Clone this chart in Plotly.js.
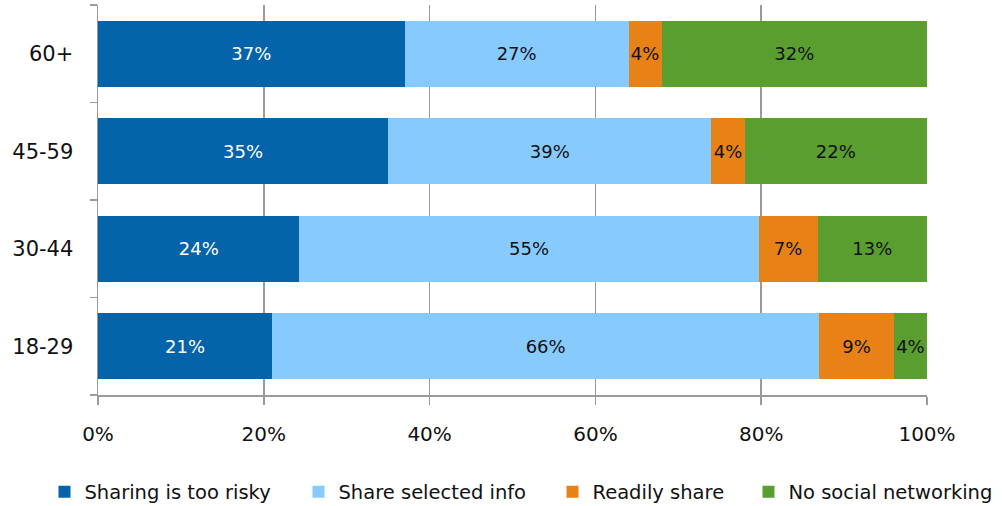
<!DOCTYPE html>
<html>
<head>
<meta charset="utf-8">
<script src="https://cdn.plot.ly/plotly-3.0.1.min.js"></script>
<style>html,body{margin:0;padding:0;background:#fff;}#chart{width:1002px;height:506px;}</style>
</head>
<body>
<div id="chart"></div>
<script>
const ageGroups = ["18-29", "30-44", "45-59", "60+"];
const seriesNames = ["Sharing is too risky", "Share selected info", "Readily share", "No social networking"];
const tooRisky = [21, 24.3, 35, 37];
const selectedInfo = [66, 55.4, 39, 27];
const readilyShare = [9, 7.1, 4, 4];
const noSocial = [4, 13.2, 22, 32];
const xTickVals = [0, 20, 40, 60, 80, 100];
const xTickText = ["0%", "20%", "40%", "60%", "80%", "100%"];

const colors = ["#0563A9", "#87CAFE", "#E88217", "#599E2F"];
const textColors = ["#ffffff", "#111111", "#111111", "#111111"];
const seriesValues = [tooRisky, selectedInfo, readilyShare, noSocial];
const FONT = "'DejaVu Sans', 'Noto Sans', sans-serif";
const legendIds = ["legend", "legend2", "legend3", "legend4"];
const legendX = [0.0444, 0.2979, 0.5514, 0.747];

const traces = seriesValues.map((vals, i) => ({
  type: "bar",
  orientation: "h",
  name: seriesNames[i],
  legend: legendIds[i],
  y: ageGroups,
  x: vals,
  text: vals.map(v => Math.round(v) + "%"),
  textposition: "inside",
  insidetextanchor: "middle",
  textangle: 0,
  constraintext: "none",
  textfont: {family: FONT, size: 18, color: textColors[i]},
  marker: {color: colors[i], line: {width: 0}},
  hoverinfo: "skip"
}));

const layout = {
  width: 1002, height: 506,
  barmode: "stack",
  bargap: 0.32,
  margin: {l: 98, r: 75, t: 5, b: 111, autoexpand: false},
  paper_bgcolor: "#ffffff",
  plot_bgcolor: "#ffffff",
  font: {family: FONT, size: 18, color: "#111111"},
  showlegend: true,
  xaxis: {
    range: [0, 100],
    tickvals: xTickVals,
    ticktext: xTickText,
    showgrid: true,
    gridcolor: "#9a9a9a",
    gridwidth: 1.5,
    zeroline: false,
    showline: true,
    linecolor: "#9a9a9a",
    linewidth: 1.5,
    ticks: "outside",
    ticklen: 8,
    tickcolor: "#9a9a9a",
    tickwidth: 1.5,
    ticklabelstandoff: 12,
    tickfont: {family: FONT, size: 20, color: "#111111"},
    fixedrange: true
  },
  yaxis: {
    type: "category",
    categoryorder: "array",
    categoryarray: ageGroups,
    range: [-0.5, 3.5],
    tickson: "boundaries",
    ticks: "outside",
    ticklen: 7,
    tickcolor: "#9a9a9a",
    tickwidth: 1.5,
    showline: true,
    linecolor: "#9a9a9a",
    linewidth: 1.5,
    showgrid: false,
    zeroline: false,
    ticklabelstandoff: 19,
    tickfont: {family: FONT, size: 21, color: "#111111"},
    fixedrange: true
  }
};

legendIds.forEach((id, i) => {
  layout[id] = {
    orientation: "h",
    xref: "container", yref: "container",
    x: legendX[i], xanchor: "left",
    y: 0.0277, yanchor: "middle",
    font: {family: FONT, size: 19.5, color: "#111111"},
    itemwidth: 30,
    bgcolor: "rgba(0,0,0,0)"
  };
});

Plotly.newPlot("chart", traces, layout, {displayModeBar: false, staticPlot: true});
</script>
</body>
</html>
